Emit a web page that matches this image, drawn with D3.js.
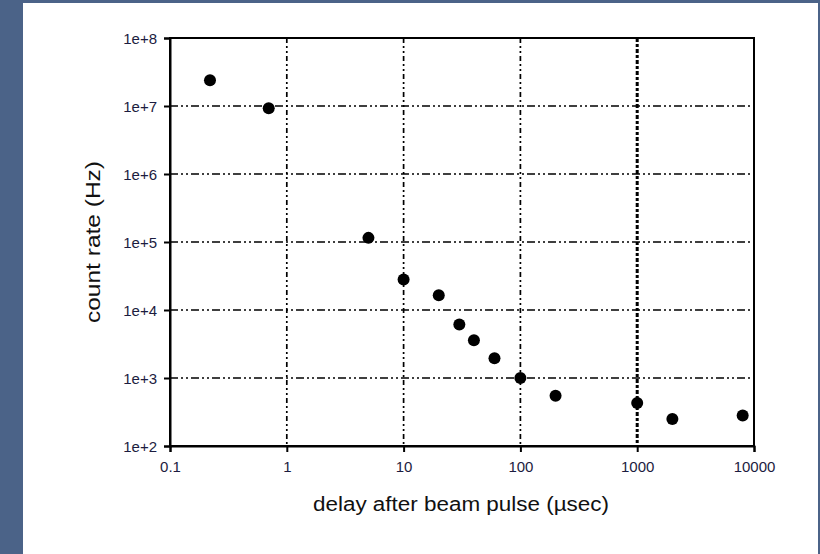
<!DOCTYPE html>
<html>
<head>
<meta charset="utf-8">
<script src="https://cdn.jsdelivr.net/npm/d3@7"></script>
<style>
  html, body { margin: 0; padding: 0; background: #4b6388; }
  svg { display: block; }
</style>
</head>
<body>
<svg id="chart" width="820" height="554"></svg>
<script>
// Delay after beam pulse (µs) and the measured count rate (Hz)
const delays = [0.22, 0.70, 5, 10, 20, 30, 40, 60, 100, 200, 1000, 2000, 8000];
const countRates = [2.4e7, 9.3e6, 1.15e5, 2.8e4, 1.65e4, 6.1e3, 3.6e3, 1.95e3, 1.0e3, 5.5e2, 4.3e2, 2.5e2, 2.8e2];
const xTicks = [0.1, 1, 10, 100, 1000, 10000];
const xTickLabels = ["0.1", "1", "10", "100", "1000", "10000"];
const yTicks = [1e2, 1e3, 1e4, 1e5, 1e6, 1e7, 1e8];
const yTickLabels = ["1e+2", "1e+3", "1e+4", "1e+5", "1e+6", "1e+7", "1e+8"];

const svg = d3.select("#chart");
const font = "'Liberation Sans', Arial, sans-serif";

// slide background with white sheet
svg.append("rect").attr("x", 0).attr("y", 0).attr("width", 820).attr("height", 554).attr("fill", "#4b6388");
svg.append("rect").attr("x", 23).attr("y", 3).attr("width", 795).attr("height", 551).attr("fill", "#ffffff");

const plot = { left: 170, right: 754, top: 38, bottom: 446 };

const x = d3.scaleLog().domain([0.1, 10000]).range([plot.left, plot.right]);
const y = d3.scaleLog().domain([1e2, 1e8]).range([plot.bottom, plot.top]);

const g = svg.append("g");

// grid lines
g.selectAll("line.hgrid")
  .data(yTicks.filter(v => v > 1e2 && v < 1e8))
  .join("line")
  .attr("class", "hgrid")
  .attr("x1", plot.left).attr("x2", plot.right)
  .attr("y1", d => y(d)).attr("y2", d => y(d))
  .attr("stroke", "#000").attr("stroke-width", 1.7)
  .attr("stroke-dasharray", "8,3,2,3,2,3");

g.selectAll("line.vgrid")
  .data(xTicks.filter(v => v > 0.1 && v < 10000))
  .join("line")
  .attr("class", "vgrid")
  .attr("x1", d => x(d)).attr("x2", d => x(d))
  .attr("y1", plot.top).attr("y2", plot.bottom)
  .attr("stroke", "#000")
  .attr("stroke-width", d => d === 1000 ? 3 : 1.7)
  .attr("stroke-dasharray", d => d === 1000 ? "4,2,3,2" : "5,3,2,3,2,3");

// frame
g.append("rect")
  .attr("x", plot.left).attr("y", plot.top)
  .attr("width", plot.right - plot.left).attr("height", plot.bottom - plot.top)
  .attr("fill", "none").attr("stroke", "#000").attr("stroke-width", 2);

// axes
const xAxis = d3.axisBottom(x)
  .tickValues(xTicks)
  .tickFormat((d, i) => xTickLabels[i])
  .tickSize(6).tickPadding(9);
const yAxis = d3.axisLeft(y)
  .tickValues(yTicks)
  .tickFormat((d, i) => yTickLabels[i])
  .tickSize(6).tickPadding(7);

const gx = svg.append("g").attr("transform", `translate(0,${plot.bottom})`).call(xAxis);
const gy = svg.append("g").attr("transform", `translate(${plot.left},0)`).call(yAxis);

[gx, gy].forEach(a => {
  a.select(".domain").attr("stroke", "#000").attr("stroke-width", 2);
  a.selectAll(".tick line").attr("stroke", "#000").attr("stroke-width", 2);
  a.selectAll(".tick text")
    .attr("fill", "#1c1c40")
    .style("font-family", font)
    .style("font-size", "15px");
});
gy.selectAll(".tick text").attr("dy", "0.35em");

// data points
g.selectAll("circle.pt")
  .data(delays.map((d, i) => [d, countRates[i]]))
  .join("circle")
  .attr("class", "pt")
  .attr("cx", d => x(d[0])).attr("cy", d => y(d[1]))
  .attr("r", 6).attr("fill", "#000");

// axis titles
svg.append("text")
  .attr("x", 461).attr("y", 511)
  .attr("text-anchor", "middle")
  .attr("fill", "#111")
  .attr("textLength", 296)
  .attr("lengthAdjust", "spacingAndGlyphs")
  .style("font-family", font)
  .style("font-size", "20px")
  .text("delay after beam pulse (\u00b5sec)");

svg.append("text")
  .attr("transform", `translate(100,${242}) rotate(-90)`)
  .attr("text-anchor", "middle")
  .attr("fill", "#111")
  .attr("textLength", 162)
  .attr("lengthAdjust", "spacingAndGlyphs")
  .style("font-family", font)
  .style("font-size", "20px")
  .text("count rate (Hz)");
</script>
</body>
</html>
